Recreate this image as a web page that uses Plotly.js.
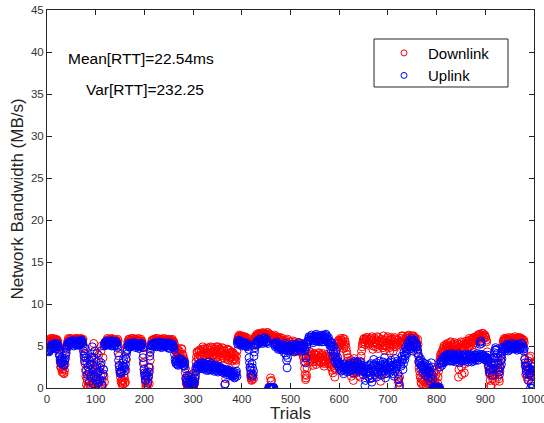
<!DOCTYPE html>
<html>
<head>
<meta charset="utf-8">
<script src="https://cdn.plot.ly/plotly-3.0.1.min.js"></script>
<style>html,body{margin:0;padding:0;background:#fff;}#chart{width:544px;height:423px;}</style>
</head>
<body>
<div id="chart"></div>
<script>
// Downlink bandwidth (MB/s) for trials 1..1000, 10 trials per row
const downlink = [
5.6,5.3,5.4,5.7,5.8,5.5,5.5,5.9,5.7,5.4,
5.3,5.6,5.9,5.8,5.6,5.4,5.5,5.7,5.8,5.6,
5.7,5.5,5.2,4.9,4.6,3.9,3.2,2.5,2.4,2.9,
1.9,2.2,2.3,1.8,1.7,2.1,2.8,3.5,4.1,4.7,
5.1,5.4,5.6,5.9,5.8,5.5,5.5,5.7,5.9,5.6,
5.6,5.3,5.4,5.7,5.8,5.6,5.7,5.9,5.5,5.4,
5.6,5.8,5.9,5.5,5.4,5.7,5.7,5.6,5.8,5.9,
5.5,5.3,5.6,5.8,4.8,4.1,3.6,2.9,2.1,1.4,
0.4,1.1,0.9,0.2,0.1,0.6,1.6,2.2,0.3,0.0,
2.7,3.5,0.6,1.9,4.2,5.3,1.2,2.5,0.0,0.5,
3.1,1.0,0.5,0.1,1.8,3.9,0.2,0.8,2.4,1.5,
4.4,5.0,0.8,0.3,3.6,2.2,1.4,0.7,5.1,5.5,
5.4,5.6,5.7,5.9,5.5,5.3,5.8,5.6,5.3,5.7,
5.6,5.8,5.9,5.5,5.5,5.8,5.7,5.4,5.4,5.6,
5.6,5.7,5.5,5.4,5.8,5.6,4.9,3.8,2.6,1.9,
1.3,0.8,0.6,0.9,0.3,0.5,0.9,1.5,1.2,0.6,
0.7,2.1,3.4,4.5,5.1,5.5,5.6,5.8,5.8,5.5,
5.4,5.7,5.7,5.9,5.5,5.6,5.9,5.4,5.6,5.8,
5.5,5.7,5.8,5.5,5.4,5.6,5.7,5.9,5.6,5.4,
5.3,5.5,5.8,5.6,5.5,5.2,4.8,4.0,3.1,2.3,
1.6,0.7,0.2,0.0,0.0,0.4,0.8,1.9,1.3,0.5,
2.4,3.3,4.6,5.2,5.5,5.7,5.7,5.4,5.4,5.8,
5.8,5.5,5.6,5.9,5.5,5.7,5.9,5.6,5.7,5.3,
5.4,5.6,5.6,5.8,5.8,5.5,5.5,5.7,5.7,5.9,
5.6,5.5,5.4,5.7,5.8,5.6,5.5,5.3,5.7,5.8,
5.6,5.4,5.3,5.6,5.5,5.7,5.8,5.5,5.6,5.4,
5.4,5.0,4.7,4.4,4.3,4.8,3.8,4.2,4.5,3.7,
3.6,4.4,4.1,3.9,3.4,4.7,4.6,4.0,3.9,3.3,
3.5,3.0,2.6,1.8,1.1,0.6,0.4,0.9,0.0,0.3,
0.7,1.3,0.2,0.0,1.5,0.8,0.3,0.1,0.9,1.7,
0.1,0.4,0.5,1.2,2.3,3.1,3.7,4.3,4.2,3.5,
3.6,4.4,4.5,3.8,3.9,4.6,4.3,3.7,3.8,4.9,
4.6,3.9,4.0,4.7,4.4,3.6,3.5,4.2,4.7,4.0,
4.1,4.8,3.7,3.4,4.5,4.9,4.2,3.8,4.8,4.3,
3.9,4.6,4.4,3.8,4.7,4.1,3.6,4.9,4.3,3.7,
4.9,4.4,4.0,4.7,4.6,3.5,3.8,4.2,4.5,4.8,
4.2,3.6,4.7,4.4,3.5,4.1,1.1,3.8,3.9,4.6,
4.6,3.4,3.3,4.5,4.1,3.7,3.6,4.2,4.3,3.2,
3.7,4.2,4.0,3.5,3.4,3.9,2.9,3.3,3.8,4.4,
5.6,5.9,6.1,6.0,6.3,6.2,5.9,5.8,6.2,6.1,
6.0,5.7,5.8,6.1,5.6,5.9,6.1,5.8,5.7,5.5,
5.5,5.8,5.9,5.6,5.4,5.3,2.4,1.5,1.2,0.9,
1.0,1.3,1.6,1.1,5.1,5.7,5.9,6.1,6.2,6.0,
6.4,6.2,6.0,6.3,6.5,6.1,6.3,6.5,6.1,6.4,
6.4,6.1,6.6,6.3,6.2,6.5,6.5,6.2,6.0,6.4,
6.3,6.6,6.6,6.2,6.1,6.4,6.4,6.1,1.2,0.8,
0.9,6.0,6.2,5.8,5.8,6.1,6.3,5.9,6.0,5.7,
5.7,6.0,6.1,5.6,5.9,5.8,5.5,5.4,5.8,6.0,
5.4,5.7,5.9,5.5,5.6,5.3,5.2,5.6,4.8,5.1,
5.7,5.4,5.3,5.8,5.0,4.7,4.5,5.2,5.5,5.0,
5.1,4.6,4.7,5.2,5.6,5.0,4.9,4.4,4.3,5.5,
5.3,4.8,5.0,4.5,4.4,5.1,5.4,4.9,4.8,5.3,
4.6,4.3,5.2,4.8,4.1,3.8,3.6,3.1,2.3,1.6,
1.0,1.2,1.5,2.4,3.3,3.8,4.0,4.4,3.5,3.2,
3.8,3.4,4.2,3.9,3.1,2.7,3.6,4.1,4.0,3.5,
3.4,3.9,2.8,3.1,3.9,3.6,3.3,4.2,4.1,3.7,
3.6,3.2,3.0,3.7,3.9,4.1,3.4,3.1,2.6,2.9,
3.7,3.3,3.2,3.8,4.0,3.6,2.9,3.4,3.5,3.0,
3.1,3.7,2.5,2.8,3.4,2.1,1.8,3.0,2.9,2.4,
1.3,2.2,3.6,4.0,4.6,4.9,5.3,5.6,5.7,5.4,
5.5,5.2,5.9,5.7,5.1,5.4,5.6,5.9,4.7,5.0,
5.8,5.5,5.2,4.8,4.4,4.0,3.2,3.6,2.6,2.9,
3.0,2.5,2.2,3.3,1.4,2.0,2.7,3.1,0.9,1.7,
3.5,2.8,2.4,1.9,1.8,2.6,3.1,2.3,2.0,1.5,
2.6,3.2,1.3,2.1,3.8,4.4,4.9,5.3,5.5,5.8,
5.9,5.5,5.2,5.8,5.7,6.0,6.0,5.6,5.4,5.1,
5.8,5.3,1.2,2.0,5.6,5.9,6.1,5.7,4.6,5.0,
2.0,5.4,5.9,5.5,4.9,5.2,5.7,6.1,5.2,4.7,
6.0,5.6,5.4,5.1,0.8,1.6,5.8,5.5,5.1,4.8,
6.2,5.7,4.5,5.0,1.7,2.4,5.0,5.4,5.9,6.1,
5.3,5.6,4.8,4.4,5.7,5.2,6.0,5.8,5.1,5.6,
4.4,4.9,5.5,6.0,5.8,5.3,4.9,5.1,5.4,5.7,
1.0,0.7,0.6,1.3,5.6,5.3,5.9,6.2,5.2,5.5,
6.2,5.8,5.5,5.1,4.8,5.4,5.9,5.7,6.1,6.2,
5.6,5.9,6.3,6.0,5.8,5.5,5.3,5.7,6.0,6.2,
5.7,5.4,6.2,6.0,5.5,5.9,5.9,5.3,4.2,4.6,
5.8,5.2,3.1,2.4,2.0,1.5,1.2,0.7,0.5,1.0,
1.7,2.3,0.3,0.8,2.6,1.9,1.0,0.4,0.1,0.6,
1.9,1.3,0.8,0.2,2.4,1.7,0.4,1.1,1.4,0.9,
0.0,0.5,1.1,1.8,2.1,1.2,0.6,0.3,1.6,2.2,
0.2,0.6,1.3,2.0,2.8,3.1,3.4,3.9,4.1,3.8,
3.7,4.4,4.6,4.2,5.0,4.8,4.3,4.5,5.2,4.9,
4.7,5.1,5.3,4.6,4.5,5.0,4.9,5.4,5.5,4.7,
4.2,4.9,5.1,4.4,4.8,5.2,5.4,4.6,4.6,5.0,
5.0,5.3,4.4,4.7,1.3,2.2,5.2,4.8,4.7,5.5,
2.5,1.6,5.4,5.1,4.9,4.5,1.8,2.9,5.1,5.3,
5.6,5.2,4.8,5.5,5.3,4.9,5.9,5.7,5.0,5.4,
5.5,5.8,4.6,5.1,5.8,6.0,6.0,5.6,5.4,5.9,
6.1,5.9,5.7,6.2,6.3,5.9,6.0,6.4,6.4,6.1,
5.8,6.3,6.2,6.5,6.5,6.0,5.9,6.3,6.3,6.1,
6.0,5.7,5.5,4.3,3.2,2.6,2.4,1.9,1.6,0.9,
0.3,0.2,2.0,1.4,1.1,2.3,2.7,1.6,1.5,0.8,
2.2,2.9,3.6,1.8,1.3,2.4,2.8,1.1,0.8,2.0,
2.5,3.2,3.9,4.4,4.8,5.2,5.6,5.7,5.9,5.6,
5.5,5.9,5.8,5.4,5.3,5.7,6.0,5.8,5.7,5.5,
5.4,5.6,5.9,6.0,5.6,5.3,5.2,5.7,5.8,5.9,
6.1,5.8,5.7,5.5,5.4,5.9,5.9,6.0,5.6,5.5,
6.0,5.7,5.5,5.9,5.8,5.4,5.3,5.6,5.7,5.4,
3.5,2.6,1.6,2.2,2.7,1.3,1.0,2.0,3.2,3.6,
2.1,1.5,3.8,3.0,1.4,0.9,2.5,2.8,3.0,1.9
];
// Uplink bandwidth (MB/s) for the same trials
const uplink = [
4.5,4.4,4.6,4.3,4.4,4.8,4.9,4.6,5.0,5.2,
4.7,5.0,5.2,4.9,4.8,5.3,5.1,4.7,4.9,5.1,
5.3,5.0,4.9,4.5,4.1,3.8,3.4,3.0,2.9,3.3,
3.6,3.1,3.1,2.8,2.7,3.2,3.5,3.9,4.2,4.6,
4.9,5.1,5.3,5.4,5.1,5.3,5.5,5.2,5.4,5.6,
5.2,5.5,5.6,5.3,5.0,5.4,5.3,5.6,5.5,5.1,
5.2,5.5,5.4,5.1,5.6,5.3,5.1,5.5,5.3,5.6,
5.7,5.4,5.5,5.2,4.4,3.8,3.2,4.1,4.7,3.6,
2.1,3.0,1.6,2.5,3.5,1.9,0.8,3.2,2.8,1.4,
1.2,3.7,4.9,2.2,0.5,1.6,3.6,4.4,2.3,1.0,
1.3,2.6,4.1,1.9,0.6,3.3,2.0,0.8,1.0,2.7,
3.0,0.4,0.3,1.5,1.7,2.2,5.0,5.3,5.4,5.1,
5.3,5.5,5.6,5.2,5.1,5.4,5.5,5.3,5.2,5.6,
5.4,5.1,5.0,5.3,5.6,5.5,5.3,5.0,5.5,5.4,
5.2,5.5,5.4,5.1,4.8,4.2,3.3,2.7,2.2,1.8,
1.7,2.0,1.9,2.3,2.6,3.0,3.4,2.5,2.0,2.4,
2.8,3.5,4.0,4.4,4.6,5.0,5.1,5.3,5.3,4.9,
4.9,5.2,5.2,5.0,5.0,5.3,5.4,5.1,5.1,5.4,
5.3,5.0,4.8,5.1,5.0,5.2,5.2,4.9,4.7,5.0,
5.1,5.3,4.9,5.1,5.3,4.8,3.6,2.9,2.2,1.8,
1.4,1.0,0.9,1.5,1.8,1.2,0.6,1.4,2.5,1.9,
3.8,4.3,4.8,5.0,5.2,5.1,5.0,5.3,5.3,5.2,
5.1,5.3,5.4,5.0,4.9,5.1,5.2,5.4,5.5,5.3,
5.0,4.9,5.3,5.1,4.8,5.2,5.1,5.0,5.4,5.3,
5.2,5.0,4.9,5.2,5.3,5.1,5.0,4.8,5.4,5.2,
4.7,5.0,5.1,5.3,5.3,5.0,4.9,5.2,5.0,4.8,
4.6,4.0,3.4,3.1,2.9,3.3,3.2,2.8,2.7,3.0,
3.1,3.4,3.5,3.0,2.8,3.3,3.3,3.1,3.0,2.7,
2.6,2.9,3.1,2.3,1.2,0.9,0.7,1.5,0.3,0.6,
1.4,0.8,0.0,0.4,0.9,1.3,0.5,0.2,1.1,0.8,
0.4,0.6,0.8,1.1,1.5,2.0,2.6,2.4,2.2,2.7,
2.8,2.5,2.4,2.9,3.0,2.6,2.5,2.3,2.7,3.0,
2.3,2.6,2.9,2.4,2.6,2.8,2.1,2.5,2.8,2.3,
2.4,2.1,3.1,2.7,2.2,2.5,2.7,2.9,2.5,2.2,
2.4,2.6,2.0,2.2,2.7,2.5,2.3,2.1,2.5,2.6,
1.9,2.3,2.6,2.4,2.2,2.0,2.4,2.3,2.0,2.2,
2.3,2.0,1.8,2.2,0.4,0.5,2.1,1.9,1.6,2.0,
2.2,1.8,1.9,2.1,1.5,1.7,2.0,1.8,1.7,1.5,
1.4,1.7,1.9,1.5,1.2,1.3,1.6,1.8,2.0,1.4,
5.4,5.2,5.7,5.5,5.3,5.6,5.6,5.4,5.2,5.0,
5.5,5.3,5.1,5.4,5.4,5.1,5.0,5.3,5.3,5.0,
4.9,5.2,5.2,4.6,3.6,3.0,2.5,2.1,1.7,1.4,
2.9,2.4,1.5,2.0,3.8,4.3,4.8,5.1,5.3,5.2,
5.6,5.4,5.2,5.5,5.5,5.8,5.8,5.6,5.4,5.5,
5.7,5.5,5.3,5.6,5.6,5.9,6.0,5.7,5.4,5.5,
5.8,5.6,5.5,5.3,0.0,0.1,0.0,0.0,0.1,0.0,
0.0,0.1,0.0,0.0,0.1,0.0,5.3,5.1,4.9,5.2,
5.5,5.3,5.0,4.8,4.6,4.9,5.2,5.0,4.8,4.6,
5.1,4.8,4.5,4.7,4.9,5.1,4.2,4.6,5.3,5.0,
3.9,3.3,2.4,3.6,4.7,4.4,4.4,4.9,5.0,4.6,
4.6,4.9,5.2,4.7,4.8,4.5,4.3,4.6,5.0,5.2,
4.5,4.8,5.1,4.9,4.7,5.0,5.4,5.1,4.9,4.6,
4.4,4.8,5.0,4.7,4.7,5.1,5.3,4.9,4.6,4.4,
3.0,3.6,4.9,5.2,5.5,5.6,5.8,6.1,6.0,5.7,
5.7,6.0,6.3,6.1,5.9,5.6,5.4,5.8,6.1,6.2,
5.6,5.9,6.4,6.2,5.8,5.6,6.2,5.9,5.5,5.7,
6.0,6.2,5.7,5.5,6.3,6.1,5.5,5.8,6.1,6.3,
5.9,5.7,6.4,6.2,5.6,5.5,5.8,6.0,5.3,5.6,
5.1,5.4,4.6,4.9,5.4,5.0,3.8,4.4,4.9,4.0,
3.2,3.7,4.3,3.4,2.9,3.3,3.6,3.0,2.6,2.9,
2.3,2.6,2.8,2.1,2.0,2.4,2.5,2.8,1.7,2.1,
2.9,2.5,2.2,2.6,2.6,2.3,1.9,2.7,2.4,2.0,
2.7,2.4,2.1,2.8,3.0,2.5,2.4,2.1,1.8,2.3,
2.6,3.0,3.2,2.7,2.2,2.5,2.9,3.1,2.5,2.2,
2.0,2.4,2.8,2.5,3.1,2.7,2.4,2.0,1.6,1.9,
2.2,2.6,0.3,0.9,1.9,2.3,2.6,2.0,1.4,1.8,
2.3,2.7,1.1,1.5,2.9,2.4,0.7,1.2,2.1,2.6,
3.4,2.8,1.6,2.2,2.7,3.0,1.3,1.8,2.5,2.1,
1.9,2.5,3.2,2.7,2.4,1.9,1.5,2.2,2.8,3.1,
2.0,2.6,3.6,2.9,1.2,1.7,2.6,2.3,2.2,2.8,
3.0,2.4,1.8,2.2,2.5,3.1,3.3,2.7,2.1,1.7,
2.7,2.3,1.4,2.0,3.5,2.8,2.3,2.6,2.9,3.2,
1.7,1.1,0.1,0.3,3.1,2.8,2.6,3.3,3.8,3.4,
2.2,2.9,4.3,3.9,3.4,3.8,4.9,4.4,4.1,4.6,
5.4,5.0,4.6,5.2,5.7,5.5,5.0,4.7,5.9,5.6,
4.4,4.9,5.3,5.7,5.6,5.1,4.8,5.3,5.2,4.9,
4.5,4.1,3.8,3.2,2.9,3.3,3.5,2.7,2.3,2.6,
3.1,2.5,1.8,2.2,2.6,2.9,1.5,1.9,2.1,2.4,
2.8,2.2,1.2,1.8,2.4,2.0,0.8,1.3,3.0,2.5,
1.6,1.1,0.0,0.1,0.1,0.0,0.0,0.1,0.1,0.0,
0.0,0.1,0.1,0.0,0.0,0.1,2.5,2.9,3.2,3.0,
2.7,3.3,3.6,3.1,3.0,3.5,3.8,3.6,3.4,3.2,
4.0,3.7,3.5,3.9,3.9,3.4,3.2,3.7,4.1,3.8,
3.6,3.2,3.3,3.9,4.0,3.5,3.7,3.3,3.1,3.6,
3.8,3.5,3.4,3.9,4.1,3.7,3.0,3.4,3.6,3.2,
3.9,3.6,3.2,3.8,3.7,3.3,3.5,3.9,4.0,3.6,
3.3,3.7,3.8,3.4,3.1,3.5,3.6,3.9,4.0,3.7,
3.4,3.1,3.7,3.8,3.2,3.5,3.9,3.6,3.5,3.3,
3.6,3.9,4.1,3.7,3.3,3.6,3.8,4.0,5.2,5.5,
5.6,5.3,4.0,3.6,3.5,3.8,3.9,3.4,3.4,3.7,
3.7,3.4,3.2,3.6,3.9,3.3,2.6,2.1,1.8,2.2,
2.4,3.0,3.5,2.8,1.5,2.3,3.0,3.6,4.2,4.5,
4.8,4.6,4.5,4.1,3.6,3.0,2.2,1.9,1.6,2.4,
3.8,3.3,2.8,3.5,4.3,4.7,4.9,4.6,4.6,4.4,
5.0,4.8,4.7,5.1,5.2,4.9,4.4,4.6,4.9,5.1,
5.1,4.8,4.6,4.9,5.3,5.0,4.8,4.7,5.0,5.2,
4.7,5.0,5.1,4.8,4.5,4.7,4.9,5.2,5.2,4.9,
4.6,4.8,5.0,5.3,5.3,4.9,4.8,4.6,4.4,4.7,
3.4,3.0,2.6,2.0,1.7,2.5,3.0,2.2,0.9,1.6,
2.3,1.8,0.0,0.5,1.5,2.1,0.2,0.0,2.0,2.6
];
const seriesNames = ['Downlink', 'Uplink'];
const xTicks = [0,100,200,300,400,500,600,700,800,900,1000];
const yTicks = [0,5,10,15,20,25,30,35,40,45];
const statTexts = ['Mean[RTT]=22.54ms', 'Var[RTT]=232.25'];

const trials = downlink.map((_, i) => i + 1);
const FONT = 'Liberation Sans, Arial, Helvetica, sans-serif';
const AX = '#262626';
const COLORS = ['#ff0000', '#0000ff'];

const traces = [
  {x: trials, y: downlink, name: seriesNames[0], type: 'scatter', mode: 'markers', showlegend: false,
   marker: {symbol: 'circle-open', size: 8, color: COLORS[0], line: {width: 1}}},
  {x: trials, y: uplink, name: seriesNames[1], type: 'scatter', mode: 'markers', showlegend: false,
   marker: {symbol: 'circle-open', size: 8, color: COLORS[1], line: {width: 1}}},
  // legend entries (small markers like the original legend)
  {x: [null], y: [null], name: seriesNames[0], type: 'scatter', mode: 'markers', showlegend: true,
   marker: {symbol: 'circle-open', size: 6, color: COLORS[0], line: {width: 1}}},
  {x: [null], y: [null], name: seriesNames[1], type: 'scatter', mode: 'markers', showlegend: true,
   marker: {symbol: 'circle-open', size: 6, color: COLORS[1], line: {width: 1}}}
];

const axisCommon = {
  showgrid: false, zeroline: false, showline: true, linecolor: AX, linewidth: 1,
  ticks: 'inside', ticklen: 5, tickwidth: 1, tickcolor: AX, mirror: 'ticks',
  tickfont: {family: FONT, size: 11.5, color: '#333333'}, automargin: false,
  ticklabeloverflow: 'allow'
};

const layout = {
  width: 544, height: 423,
  margin: {l: 47, r: 10, t: 10, b: 35},
  paper_bgcolor: '#ffffff', plot_bgcolor: '#ffffff',
  font: {family: FONT, color: '#000'},
  showlegend: true,
  xaxis: Object.assign({}, axisCommon, {
    range: [0, 1000], tickmode: 'array', tickvals: xTicks, ticktext: xTicks.map(String),
    title: {text: 'Trials', font: {family: FONT, size: 17, color: '#262626'}, standoff: 2}
  }),
  yaxis: Object.assign({}, axisCommon, {
    range: [0, 45], tickmode: 'array', tickvals: yTicks, ticktext: yTicks.map(String),
    title: {text: 'Network Bandwidth (MB/s)', font: {family: FONT, size: 17, color: '#262626'}, standoff: 2}
  }),
  legend: {
    x: 0.6838, y: 0.9294, xanchor: 'left', yanchor: 'top',
    borderwidth: 0, bgcolor: 'rgba(0,0,0,0)', itemwidth: 38,
    font: {family: FONT, size: 15, color: '#000'}
  },
  shapes: [
    {type: 'rect', xref: 'paper', yref: 'paper', x0: 0.6715, x1: 0.9466, y0: 0.7963, y1: 0.9233,
     line: {color: AX, width: 1}, fillcolor: '#ffffff', layer: 'above'}
  ],
  annotations: [
    {x: 193, y: 39.17, xref: 'x', yref: 'y', text: statTexts[0], showarrow: false,
     font: {family: FONT, size: 15.5, color: '#000'}},
    {x: 202, y: 35.48, xref: 'x', yref: 'y', text: statTexts[1], showarrow: false,
     font: {family: FONT, size: 15.5, color: '#000'}}
  ]
};

Plotly.newPlot('chart', traces, layout, {displayModeBar: false, staticPlot: true});
</script>
</body>
</html>
